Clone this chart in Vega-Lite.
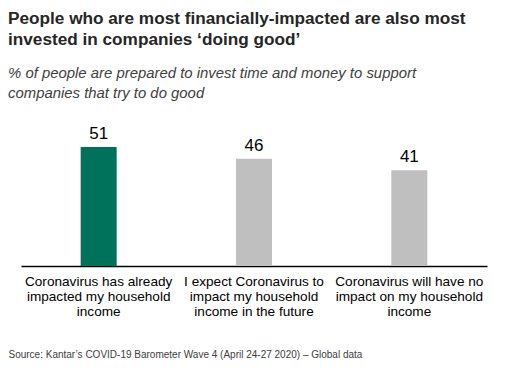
{
  "$schema": "https://vega.github.io/schema/vega-lite/v6.json",
  "autosize": "none",
  "width": 466,
  "height": 140,
  "padding": {"left": 21, "top": 126, "right": 24, "bottom": 115},
  "background": "white",
  "title": {
    "text": ["People who are most financially-impacted are also most", "invested in companies ‘doing good’"],
    "subtitle": ["% of people are prepared to invest time and money to support", "companies that try to do good"],
    "anchor": "start",
    "frame": "group",
    "dx": -13,
    "offset": 24,
    "font": "Liberation Sans",
    "fontSize": 17.2,
    "fontWeight": "bold",
    "color": "#262626",
    "lineHeight": 21,
    "subtitleFont": "Liberation Sans",
    "subtitleFontSize": 14.9,
    "subtitleFontStyle": "italic",
    "subtitleColor": "#404040",
    "subtitleLineHeight": 20,
    "subtitlePadding": 18
  },
  "data": {
    "values": [
      {"label": "Coronavirus has already|impacted my household|income", "value": 51, "highlight": "yes"},
      {"label": "I expect Coronavirus to|impact my household|income in the future", "value": 46, "highlight": "no"},
      {"label": "Coronavirus will have no|impact on my household|income", "value": 41, "highlight": "no"}
    ]
  },
  "encoding": {
    "x": {
      "field": "label",
      "type": "nominal",
      "sort": null,
      "scale": {"paddingInner": 0, "paddingOuter": 0},
      "axis": {
        "title": "Source: Kantar’s COVID-19 Barometer Wave 4 (April 24-27 2020) – Global data",
        "titleFont": "Liberation Sans",
        "titleFontSize": 10,
        "titleFontWeight": "normal",
        "titleColor": "#404040",
        "titleAnchor": "start",
        "titleAlign": "left",
        "titleX": -13,
        "titleY": 88,
        "titleBaseline": "middle",
        "labelExpr": "split(datum.label, '|')",
        "labelAngle": 0,
        "labelFont": "Liberation Sans",
        "labelFontSize": 13.6,
        "labelColor": "#000000",
        "labelLineHeight": 15,
        "labelPadding": 8,
        "labelBaseline": "top",
        "ticks": false,
        "domainColor": "#000000",
        "domainWidth": 1.3,
        "grid": false
      }
    },
    "y": {
      "field": "value",
      "type": "quantitative",
      "scale": {"domain": [0, 60]},
      "axis": null
    }
  },
  "layer": [
    {
      "mark": {"type": "bar", "width": 36},
      "encoding": {
        "color": {
          "field": "highlight",
          "type": "nominal",
          "scale": {"domain": ["yes", "no"], "range": ["#00725B", "#BFBFBF"]},
          "legend": null
        }
      }
    },
    {
      "mark": {"type": "text", "baseline": "bottom", "dy": -4, "font": "Liberation Sans", "fontSize": 17, "color": "#000000"},
      "encoding": {"text": {"field": "value", "type": "quantitative"}}
    }
  ],
  "config": {"view": {"stroke": null}}
}
